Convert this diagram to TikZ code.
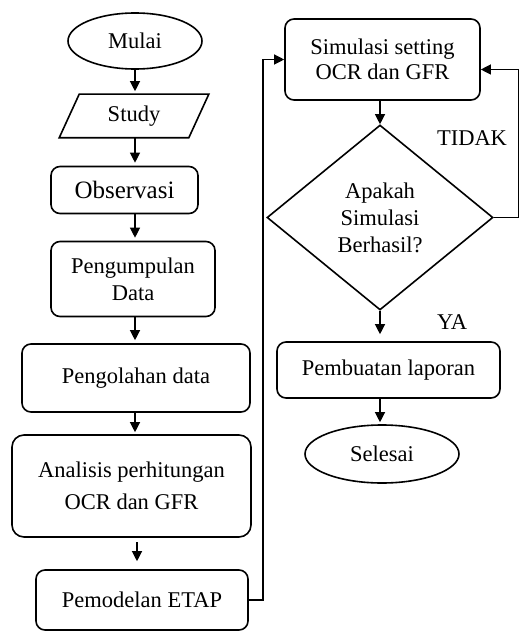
\documentclass[tikz,border=0pt]{standalone}
\usepackage{fontspec}
\setmainfont{Liberation Serif}
\usetikzlibrary{shapes.geometric,arrows.meta}
\tikzset{
  base/.style={line width=1.6pt, align=center, inner sep=0pt, font=\fontsize{22.5}{27}\selectfont},
  term/.style={base, draw, ellipse},
  proc/.style={base, draw, rounded corners=9pt},
  dec/.style={base, draw, diamond},
  lbl/.style={inner sep=0pt, font=\fontsize{22.5}{27}\selectfont},
  conn/.style={line width=1.2pt},
  arr/.style={conn, -{Triangle[length=10pt,width=10pt]}},
}
\begin{document}
\begin{tikzpicture}[x=1pt,y=-1pt]
\useasboundingbox (0,0) rectangle (520,639);
% left column
\node[term, minimum width=134pt, minimum height=56pt] (mulai) at (135,41) {Mulai};
\node[base, minimum width=128pt, minimum height=42pt] (study) at (134,116) {Study};
\draw[line width=1.6pt] ([xshift=10pt]study.north west) -- ([xshift=10pt]study.north east)
  -- ([xshift=-10pt]study.south east) -- ([xshift=-10pt]study.south west) -- cycle;
\node[proc, minimum width=147pt, minimum height=47pt, font=\fontsize{25}{29}\selectfont] (obs) at (124.5,190) {Observasi};
\node[proc, minimum width=164pt, minimum height=75pt] (kumpul) at (133,279) {Pengumpulan\\Data};
\node[proc, minimum width=228pt, minimum height=68pt] (olah) at (136,378) {Pengolahan data};
\node[proc, minimum width=239pt, minimum height=102pt, rounded corners=12pt, font=\fontsize{22.5}{32}\selectfont] (anal) at (131.5,486) {Analisis perhitungan\\OCR dan GFR};
\node[proc, minimum width=212pt, minimum height=60pt] (etap) at (142,600) {Pemodelan ETAP};
% right column
\node[proc, minimum width=195pt, minimum height=81pt, font=\fontsize{22.5}{25}\selectfont] (sim) at (382.5,59.5) {Simulasi setting\\OCR dan GFR};
\node[dec, minimum width=226pt, minimum height=185pt] (dia) at (380,217.5) {Apakah\\Simulasi\\Berhasil?};
\node[proc, minimum width=223pt, minimum height=56pt] (lap) at (388.5,370) {Pembuatan laporan};
\node[term, minimum width=154pt, minimum height=58pt] (selesai) at (382,454) {Selesai};
\node[lbl] (tidak) at (472,138) {TIDAK};
\node[lbl] (ya) at (452,322) {YA};
% left arrows
\draw[arr, shorten >=3pt] (mulai.south) -- (mulai.south |- study.north);
\draw[arr, shorten >=3pt] (mulai.south |- study.south) -- (mulai.south |- obs.north);
\draw[arr, shorten >=3pt] (mulai.south |- obs.south) -- (mulai.south |- kumpul.north);
\draw[arr, shorten >=3pt] (mulai.south |- kumpul.south) -- (mulai.south |- olah.north);
\draw[arr, shorten >=2pt] (mulai.south |- olah.south) -- (mulai.south |- anal.north);
\coordinate (a1) at (137,542);
\draw[arr, shorten >=8pt] (a1) -- (a1 |- etap.north);
% loop from ETAP to simulation
\coordinate (lx) at (263,0);
\draw[arr] (etap.east) -- (lx |- etap.east) -- (lx |- sim.west) -- (sim.west);
% simulation to decision
\draw[arr] (dia.north |- sim.south) -- (dia.north);
% TIDAK loop
\coordinate (rx) at (518.5,0);
\coordinate (simr) at ([yshift=-10pt]sim.east);
\draw[arr] (dia.east) -- (rx |- dia.east) -- (rx |- simr) -- (simr);
% YA
\draw[arr, shorten >=7pt] (dia.south) -- (dia.south |- lap.north);
\draw[arr, shorten >=2pt] (dia.south |- lap.south) -- (dia.south |- selesai.north);
\end{tikzpicture}
\end{document}
